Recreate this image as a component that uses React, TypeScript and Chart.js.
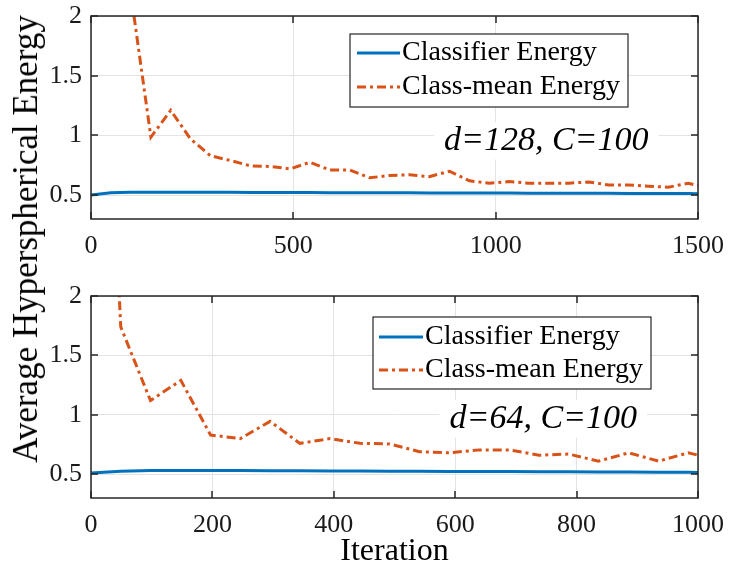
import React, { useEffect, useRef } from "react";
import { Chart, registerables } from "chart.js";

Chart.register(...registerables);

// ---------- data ----------
const SERIES_LABELS = ["Classifier Energy", "Class-mean Energy"];
const Y_TITLE = "Average Hyperspherical Energy";
const X_TITLE = "Iteration";
const Y_TICKS = [0.5, 1, 1.5, 2];

const topIterations = [0, 49, 98, 148, 197, 246, 295, 344, 394, 443, 492, 541, 590, 640, 689, 738, 787, 836, 886, 935, 984, 1033, 1082, 1132, 1181, 1230, 1279, 1328, 1378, 1427, 1476, 1500];
const topClassifier = [0.5, 0.52, 0.525, 0.525, 0.524, 0.524, 0.523, 0.523, 0.522, 0.522, 0.521, 0.521, 0.52, 0.52, 0.52, 0.519, 0.519, 0.518, 0.518, 0.517, 0.517, 0.517, 0.516, 0.516, 0.515, 0.515, 0.515, 0.514, 0.514, 0.513, 0.513, 0.512];
const topClassMean = [6.0, 3.5, 2.2, 0.985, 1.21, 0.97, 0.83, 0.79, 0.745, 0.74, 0.72, 0.775, 0.71, 0.71, 0.645, 0.665, 0.67, 0.655, 0.7, 0.62, 0.6, 0.613, 0.6, 0.6, 0.6, 0.61, 0.585, 0.585, 0.574, 0.566, 0.6, 0.58];
const topXTicks = [0, 500, 1000, 1500];
const topNote = "d=128, C=100";

const bottomIterations = [0, 49, 98, 148, 197, 246, 295, 344, 394, 443, 492, 541, 590, 640, 689, 738, 787, 836, 886, 935, 984, 1000];
const bottomClassifier = [0.51, 0.525, 0.532, 0.532, 0.531, 0.531, 0.53, 0.529, 0.528, 0.527, 0.526, 0.525, 0.524, 0.523, 0.522, 0.521, 0.52, 0.519, 0.518, 0.517, 0.516, 0.515];
const bottomClassMean = [7.0, 1.74, 1.12, 1.29, 0.83, 0.8, 0.945, 0.76, 0.8, 0.76, 0.755, 0.69, 0.68, 0.705, 0.705, 0.66, 0.67, 0.61, 0.68, 0.61, 0.68, 0.66];
const bottomXTicks = [0, 200, 400, 600, 800, 1000];
const bottomNote = "d=64, C=100";

// ---------- styles ----------
const FONT = "'Liberation Serif', 'Times New Roman', serif";
const BLUE = "#0072BD";
const ORANGE = "#D95319";
const GRID = "#e3e3e3";
const AXIS = "#262626";
const TEXT = "#1a1a1a";

Chart.defaults.font.family = FONT;

const framePlugin = {
  id: "matlabFrame",
  afterDatasetsDraw(chart: any, _a: any, opts: any) {
    const { ctx } = chart;
    const xs = chart.scales.x;
    const ys = chart.scales.y;
    if (opts.note) {
      ctx.save();
      ctx.font = `italic ${opts.note.size}px ${FONT}`;
      const cx = xs.getPixelForValue(opts.note.x);
      const cy = ys.getPixelForValue(opts.note.y);
      const w = ctx.measureText(opts.note.text).width;
      ctx.fillStyle = "#ffffff";
      ctx.fillRect(cx - w / 2 - 10, cy - opts.note.size * 0.55, w + 20, opts.note.size * 1.1);
      ctx.fillStyle = "#000000";
      ctx.textAlign = "center";
      ctx.textBaseline = "middle";
      ctx.fillText(opts.note.text, cx, cy);
      ctx.restore();
    }
  },
  afterDraw(chart: any, _a: any, opts: any) {
    const { ctx, chartArea: a } = chart;
    const xs = chart.scales.x;
    const ys = chart.scales.y;
    ctx.save();
    ctx.strokeStyle = AXIS;
    ctx.lineWidth = 1.5;
    ctx.setLineDash([]);
    const T = 7;
    ctx.beginPath();
    xs.ticks.forEach((t: any) => {
      const p = Math.round(xs.getPixelForValue(t.value));
      ctx.moveTo(p, a.bottom);
      ctx.lineTo(p, a.bottom - T);
      ctx.moveTo(p, a.top);
      ctx.lineTo(p, a.top + T);
    });
    ys.ticks.forEach((t: any) => {
      const p = Math.round(ys.getPixelForValue(t.value));
      ctx.moveTo(a.left, p);
      ctx.lineTo(a.left + T, p);
      ctx.moveTo(a.right, p);
      ctx.lineTo(a.right - T, p);
    });
    ctx.stroke();
    ctx.strokeRect(a.left, a.top, a.right - a.left, a.bottom - a.top);

    const L = opts.legend;
    if (L) {
      ctx.fillStyle = "#ffffff";
      ctx.fillRect(L.left, L.top, L.width, L.height);
      ctx.lineWidth = 1.2;
      ctx.strokeStyle = AXIS;
      ctx.strokeRect(L.left, L.top, L.width, L.height);
      chart.data.datasets.forEach((ds: any, i: number) => {
        const ry = L.top + L.rows[i];
        ctx.beginPath();
        ctx.strokeStyle = ds.borderColor;
        ctx.lineWidth = ds.borderWidth;
        ctx.setLineDash(ds.borderDash || []);
        ctx.moveTo(L.left + L.sampleStart, ry);
        ctx.lineTo(L.left + L.sampleEnd, ry);
        ctx.stroke();
        ctx.setLineDash([]);
        ctx.fillStyle = "#000000";
        ctx.font = `${L.fontSize}px ${FONT}`;
        ctx.textAlign = "left";
        ctx.textBaseline = "middle";
        ctx.fillText(ds.label, L.left + L.textStart, ry);
      });
    }
    ctx.restore();
  },
};

function makeConfig(
  iter: number[],
  classifier: number[],
  classMean: number[],
  xTicks: number[],
  p: any
): any {
  return {
    type: "line",
    data: {
      datasets: [
        {
          label: SERIES_LABELS[0],
          data: iter.map((x, i) => ({ x, y: classifier[i] })),
          borderColor: BLUE,
          borderWidth: 3,
          pointRadius: 0,
          tension: 0,
          fill: false,
        },
        {
          label: SERIES_LABELS[1],
          data: iter.map((x, i) => ({ x, y: classMean[i] })),
          borderColor: ORANGE,
          borderWidth: 3,
          borderDash: [9, 4, 3, 4],
          pointRadius: 0,
          tension: 0,
          fill: false,
        },
      ],
    },
    plugins: [framePlugin],
    options: {
      animation: false,
      responsive: false,
      devicePixelRatio: 1,
      layout: { padding: { left: 0, right: 31, top: p.padTop, bottom: 0 } },
      plugins: {
        legend: { display: false },
        tooltip: { enabled: false },
        matlabFrame: { legend: p.legend, note: p.note },
      },
      scales: {
        x: {
          type: "linear",
          min: xTicks[0],
          max: xTicks[xTicks.length - 1],
          afterBuildTicks: (s: any) => {
            s.ticks = xTicks.map((v) => ({ value: v }));
          },
          afterFit: (s: any) => {
            s.height = p.xHeight;
            s.paddingLeft = 0;
            s.paddingRight = 0;
          },
          grid: { color: GRID, lineWidth: 1, drawTicks: false },
          border: { display: false },
          ticks: {
            font: { family: FONT, size: 26 },
            color: TEXT,
            padding: 12,
            maxRotation: 0,
            autoSkip: false,
            callback: (v: any) => String(v),
          },
          title: p.xTitle
            ? {
                display: true,
                text: p.xTitle,
                color: "#000000",
                font: { family: FONT, size: 32, lineHeight: 0.875 },
                padding: 0,
              }
            : { display: false },
        },
        y: {
          type: "linear",
          min: 0.3,
          max: 2,
          afterBuildTicks: (s: any) => {
            s.ticks = Y_TICKS.map((v) => ({ value: v }));
          },
          afterFit: (s: any) => {
            s.width = 91;
            s.paddingTop = 0;
            s.paddingBottom = 0;
          },
          grid: { color: GRID, lineWidth: 1, drawTicks: false },
          border: { display: false },
          ticks: {
            font: { family: FONT, size: 26 },
            color: TEXT,
            padding: 9,
            autoSkip: false,
            callback: (v: any) => String(v),
          },
        },
      },
    },
  };
}

function Panel(props: { config: any; width: number; height: number; top: number }) {
  const ref = useRef<HTMLCanvasElement | null>(null);
  useEffect(() => {
    if (!ref.current) return;
    const chart = new Chart(ref.current, props.config);
    return () => chart.destroy();
  }, []);
  return (
    <canvas
      ref={ref}
      width={props.width}
      height={props.height}
      style={{ position: "absolute", left: 0, top: props.top, width: props.width, height: props.height, display: "block" }}
    />
  );
}

export default function App() {
  const topConfig = makeConfig(topIterations, topClassifier, topClassMean, topXTicks, {
    padTop: 16,
    xHeight: 41,
    legend: { left: 350, top: 34, width: 278, height: 73, rows: [19, 53], sampleStart: 7, sampleEnd: 50, textStart: 52, fontSize: 28 },
    note: { text: topNote, x: 1125, y: 0.955, size: 34 },
  });
  const bottomConfig = makeConfig(bottomIterations, bottomClassifier, bottomClassMean, bottomXTicks, {
    padTop: 36,
    xHeight: 68,
    xTitle: X_TITLE,
    legend: { left: 373, top: 57, width: 278, height: 72, rows: [20, 53], sampleStart: 6, sampleEnd: 50, textStart: 52, fontSize: 28 },
    note: { text: bottomNote, x: 745, y: 0.965, size: 34 },
  });
  return (
    <div style={{ position: "absolute", left: 0, top: 0, width: 729, height: 566, background: "#ffffff", overflow: "hidden" }}>
      <Panel config={topConfig} width={729} height={260} top={0} />
      <Panel config={bottomConfig} width={729} height={306} top={260} />
      <div
        style={{
          position: "absolute",
          left: 26,
          top: 239,
          transform: "translate(-50%, -50%) rotate(-90deg)",
          whiteSpace: "nowrap",
          fontFamily: FONT,
          fontSize: 35,
          lineHeight: "normal",
          color: "#000000",
        }}
      >
        {Y_TITLE}
      </div>
    </div>
  );
}
